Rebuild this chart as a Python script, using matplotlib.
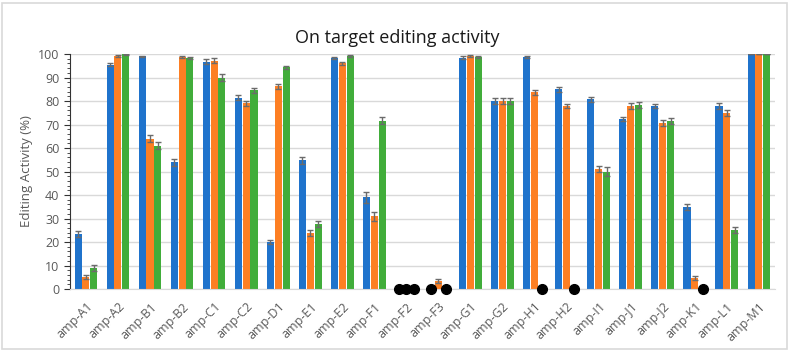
import numpy as np
import matplotlib.pyplot as plt
from matplotlib.patches import Rectangle
from matplotlib.ticker import MultipleLocator

plt.rcParams['font.family'] = ['Open Sans', 'DejaVu Sans']

categories = ['amp-A1', 'amp-A2', 'amp-B1', 'amp-B2', 'amp-C1', 'amp-C2', 'amp-D1',
              'amp-E1', 'amp-E2', 'amp-F1', 'amp-F2', 'amp-F3', 'amp-G1', 'amp-G2',
              'amp-H1', 'amp-H2', 'amp-I1', 'amp-J1', 'amp-J2', 'amp-K1', 'amp-L1',
              'amp-M1']

# nan = not detected (drawn as a black dot on the axis)
nan = np.nan
blue = [23.5, 95.5, 99.0, 54.0, 96.7, 81.5, 20.0, 54.8, 98.4, 39.0, nan, nan,
        98.5, 80.1, 98.7, 85.0, 80.7, 72.3, 77.9, 35.0, 77.9, 100.0]
orange = [5.0, 99.0, 64.0, 98.8, 97.2, 79.0, 86.2, 23.8, 96.0, 30.9, nan, 3.5,
          99.3, 80.0, 83.7, 77.9, 51.2, 77.9, 70.6, 4.6, 75.0, 100.0]
green = [9.0, 99.8, 61.0, 98.3, 90.0, 84.5, 94.4, 27.6, 99.2, 71.6, nan, nan,
         98.7, 80.0, nan, nan, 50.0, 78.2, 71.5, nan, 25.1, 100.0]

blue_err = [1.2, 0.7, 0.3, 1.5, 1.0, 1.2, 1.0, 1.5, 0.4, 2.2, nan, nan,
            0.5, 1.2, 0.4, 1.0, 1.0, 1.0, 1.0, 1.3, 1.2, 0.2]
orange_err = [0.8, 0.4, 1.6, 0.4, 1.0, 1.2, 1.0, 1.2, 0.6, 1.8, nan, 0.8,
              0.4, 1.3, 1.2, 1.0, 1.3, 1.3, 1.2, 0.8, 1.2, 0.2]
green_err = [1.3, 0.2, 1.6, 0.4, 1.5, 1.2, 0.7, 1.3, 0.3, 1.5, nan, nan,
             0.4, 1.3, nan, nan, 1.8, 1.3, 1.3, nan, 1.3, 0.2]

colors = ['#1f73cc', '#fd7f23', '#41ad3a']

fig = plt.figure(figsize=(7.94, 3.53), dpi=100)
fig.patches.append(Rectangle((0.003, 0.012), 0.988, 0.98, transform=fig.transFigure,
                             fill=False, edgecolor='#d9d9d9', linewidth=1.2))
ax = fig.add_axes([0.088, 0.181, 0.888, 0.666])

x = np.arange(len(categories))
w = 0.245
series = [(blue, blue_err), (orange, orange_err), (green, green_err)]
for i, (vals, errs) in enumerate(series):
    vals = np.array(vals, dtype=float)
    errs = np.array(errs, dtype=float)
    pos = x + (i - 1) * w
    ax.bar(pos, np.nan_to_num(vals), width=w * 0.9, color=colors[i], zorder=2)
    ax.errorbar(pos, vals, yerr=errs, fmt='none', ecolor='#6b6b6b',
                elinewidth=1, capsize=2.5, capthick=1, zorder=3)
    missing = np.isnan(vals)
    ax.plot(pos[missing], np.zeros(missing.sum()), 'o', color='black',
            markersize=7, zorder=4, clip_on=False)

ax.set_xlim(-0.5, len(categories) - 0.5)
ax.set_ylim(0, 100)
ax.yaxis.set_major_locator(MultipleLocator(10))
ax.yaxis.set_minor_locator(MultipleLocator(2))
ax.grid(axis='y', color='#d9d9d9', linewidth=1, zorder=0)
ax.set_axisbelow(True)

for s in ['top', 'right']:
    ax.spines[s].set_visible(False)
ax.spines['bottom'].set_color('#d9d9d9')
ax.spines['left'].set_color('#333333')

ax.set_xticks(x)
ax.set_xticklabels(categories, rotation=45, ha='right', rotation_mode='anchor',
                   fontsize=9, color='#595959')
ax.tick_params(axis='x', length=0, pad=8)
ax.tick_params(axis='y', which='major', length=4, color='#333333',
               labelsize=9, labelcolor='#595959')
ax.tick_params(axis='y', which='minor', length=2.5, color='#333333')

ax.set_ylabel('Editing Activity (%)', fontsize=9.5, color='#595959')
fig.text(0.5, 0.892, 'On target editing activity', ha='center', va='center',
         fontsize=13, color='#1a1a1a')

fig.savefig('out.png', dpi=100)
